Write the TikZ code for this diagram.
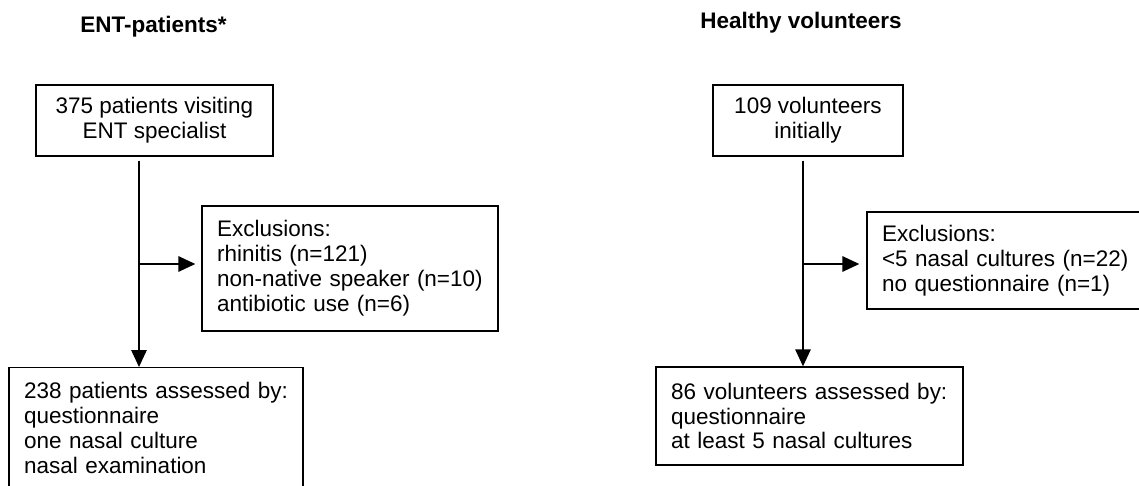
\documentclass[tikz,border=0pt]{standalone}
\usepackage{fontspec}
\setmainfont{Liberation Sans}
\usetikzlibrary{arrows.meta}

\begin{document}
\begin{tikzpicture}[x=0.02cm, y=-0.02cm, line width=0.8pt,
    font=\fontsize{12.8}{14.2}\selectfont,
    box/.style={draw, rectangle, inner sep=0pt},
    topbox/.style={box, align=center},
    listbox/.style={box, align=left, inner xsep=0.3cm},
    title/.style={font=\fontsize{12.8}{14.2}\selectfont\bfseries, anchor=base},
    arr/.style={-{Triangle[length=0.34cm, width=0.31cm]}}]
  % Rahmen
  \useasboundingbox (0,0) rectangle (1139,486);

  % Überschriften
  \node[title] (enttitle) at (153.5,33) {ENT-patients*};
  \node[title] (hvtitle) at (801,29) {Healthy volunteers};

  % ENT-Patienten
  \node[topbox, minimum width=4.74cm, minimum height=1.42cm] (ent) at (154.5,120.5)
    {375 patients visiting\\ENT specialist};
  \node[listbox, text width=5.32cm, minimum height=2.5cm] (entexcl) at (350,268.5)
    {Exclusions:\\rhinitis (n=121)\\non-native speaker (n=10)\\antibiotic use (n=6)};
  \node[listbox, text width=5.28cm, minimum height=2.42cm, anchor=north] (entout) at (156,367)
    {238 patients assessed by:\\questionnaire\\one nasal culture\\nasal examination};
  \coordinate (entsplit) at (139,264);

  \draw[arr, shorten <=0.08cm] (ent.south -| entsplit) -- (entout.north -| entsplit);
  \draw[arr, shorten >=0.12cm] (entsplit) -- (entexcl.west |- entsplit);

  % Freiwillige
  \node[topbox, minimum width=3.8cm, minimum height=1.42cm] (hv) at (808,120.5)
    {109 volunteers\\initially};
  \node[listbox, text width=5.3cm, minimum height=1.94cm] (hvexcl) at (1014.5,260.5)
    {Exclusions:\\<5 nasal cultures (n=22)\\no questionnaire (n=1)};
  \node[listbox, text width=5.54cm, minimum height=1.96cm] (hvout) at (809.5,416)
    {86 volunteers assessed by:\\questionnaire\\at least 5 nasal cultures};
  \coordinate (hvsplit) at (803,264);

  \draw[arr, shorten <=0.08cm] (hv.south -| hvsplit) -- (hvout.north -| hvsplit);
  \draw[arr, shorten >=0.14cm] (hvsplit) -- (hvexcl.west |- hvsplit);
\end{tikzpicture}
\end{document}
